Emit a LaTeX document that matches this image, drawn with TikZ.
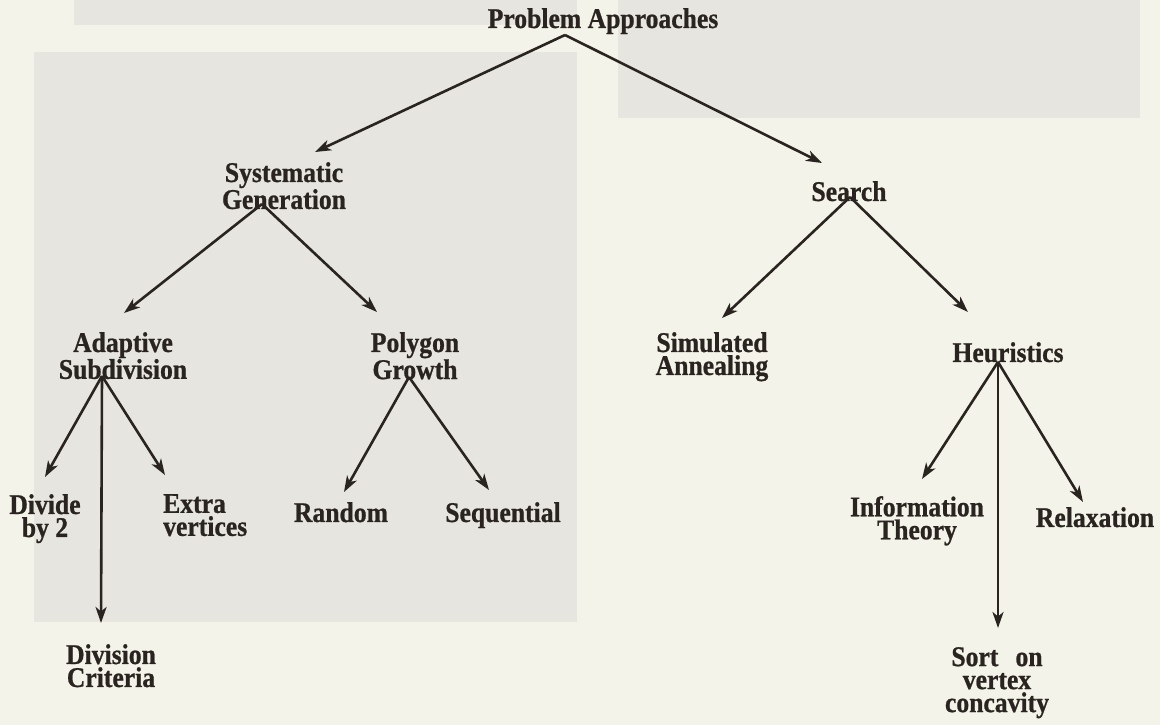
\documentclass[tikz,border=0pt]{standalone}
\usepackage{fontspec}
\setmainfont{Liberation Serif}
\newfontfamily\lblfont{Liberation Serif}[FakeStretch=0.9, BoldFeatures={FakeBold=0.8}]
\usetikzlibrary{arrows.meta}
\definecolor{ink}{HTML}{2A2420}
\definecolor{paper}{HTML}{F4F3E9}
\definecolor{photo}{HTML}{E6E5DF}
\begin{document}
\begin{tikzpicture}[x=1pt,y=-1pt,
  lbl/.style={inner sep=0pt, anchor=north, align=center, text=ink,
    font=\lblfont\fontsize{28.5pt}{23pt}\selectfont\bfseries},
  arr/.style={draw=ink, line width=2.6pt, -{Stealth[length=16pt,width=11pt,inset=4.5pt]}},
  ln/.style={draw=ink, line width=2.6pt}]
\fill[paper] (0,0) rectangle (1160,725);
\useasboundingbox (0,0) rectangle (1160,725);
% scanned page background areas
\fill[photo] (74,0) rectangle (577,25);
\fill[photo] (618,0) rectangle (1140,118);
\fill[photo] (34,52) rectangle (577,622);

% nodes
\node[lbl] (PA) at (603,8) {Problem Approaches};
\node[lbl] (SG) at (284,162) {Systematic\\Generation};
\node[lbl] (SE) at (849,181) {Search};
\node[lbl] (AS) at (123,332) {Adaptive\\Subdivision};
\node[lbl] (PG) at (415,332) {Polygon\\Growth};
\node[lbl] (SA) at (712,332) {Simulated\\Annealing};
\node[lbl] (HE) at (1008,342) {Heuristics};
\node[lbl] (DV) at (45,494) {Divide\\by 2};
\node[lbl, anchor=north west, align=left] (EV) at (163,494) {Extra\\vertices};
\node[lbl] (RA) at (341,502) {Random};
\node[lbl] (SQ) at (503,502) {Sequential};
\node[lbl] (DC) at (111,644) {Division\\Criteria};
\node[lbl] (IT) at (917,496) {Information\\Theory};
\node[lbl] (RE) at (1095,507) {Relaxation};
\node[lbl] (SO) at (997,647) {Sort\hspace{0.6em}on\\vertex\\concavity};

% connector ends
\coordinate (PAo) at (565,35);
\coordinate (SGi) at (315,152);
\coordinate (SEi) at (822,163);
\coordinate (SGo) at (262,204);
\coordinate (ASi) at (124,313);
\coordinate (PGi) at (377,312);
\coordinate (SEo) at (850,197);
\coordinate (SAi) at (722,318);
\coordinate (HEi) at (968,312);
\coordinate (ASo) at (102,376);
\coordinate (DVi) at (45,477);
\coordinate (EVi) at (165,475);
\coordinate (DCi) at (101,623);
\coordinate (PGo) at (409,377);
\coordinate (RAi) at (344,492);
\coordinate (SQi) at (489,490);
\coordinate (HEo) at (998,362);
\coordinate (ITi) at (922,479);
\coordinate (SOi) at (998,628);
\coordinate (REi) at (1083,502);

% connectors
\draw[arr] (PAo) -- (SGi);
\draw[arr] (PAo) -- (SEi);
\draw[arr] (SGo) -- (ASi);
\draw[arr] (SGo) -- (PGi);
\draw[arr] (SEo) -- (SAi);
\draw[arr] (SEo) -- (HEi);
\draw[arr] (ASo) -- (DVi);
\draw[arr] (ASo) -- (EVi);
\draw[arr] (ASo) -- (DCi);
\draw[arr] (PGo) -- (RAi);
\draw[arr] (PGo) -- (SQi);
\draw[arr] (HEo) -- (ITi);
\draw[arr] (HEo) -- (SOi);
\draw[arr] (HEo) -- (REi);
\end{tikzpicture}
\end{document}
